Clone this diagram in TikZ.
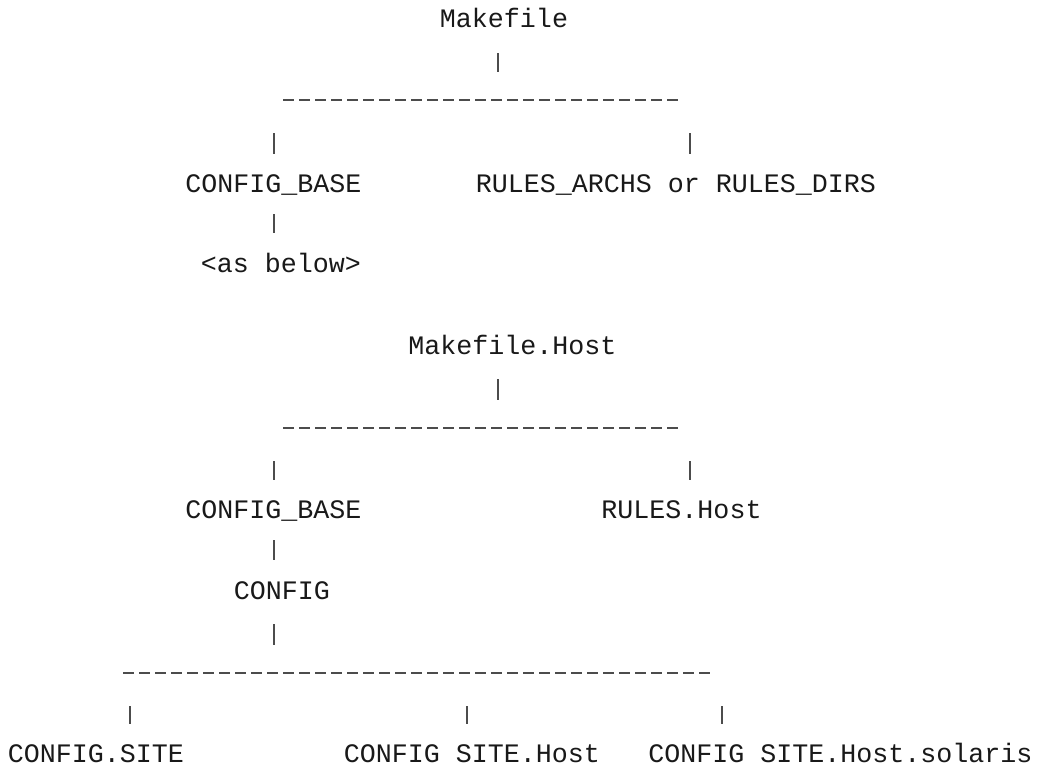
\documentclass[tikz,border=0pt]{standalone}
\usepackage{fontspec}
\setmonofont{Liberation Mono}
\usepackage{tikz}

\tikzset{
  txt/.style={font=\ttfamily\fontsize{26.67}{32}\selectfont, inner sep=0pt,
    anchor=base, text height=15pt, text depth=0pt, text=black!90},
  bar/.style={line width=1.1pt, draw=black!70},
  stem/.style={bar, shorten <=25pt, shorten >=28pt},
  drop/.style={bar, shorten <=33pt, shorten >=23pt},
  link/.style={bar, shorten <=22pt, shorten >=24pt},
  bus/.style={line width=1.1pt, draw=black!70, dash pattern=on 11pt off 5pt},
}

\begin{document}
\begin{tikzpicture}[x=1pt,y=-1pt]
\fill[white] (0,0) rectangle (1044,768);
% upper tree
\node[txt] (mk)    at (504,28)    {Makefile};
\node[txt] (cbA)   at (273.5,192) {CONFIG\_BASE};
\node[txt] (rules) at (676,192)   {RULES\_ARCHS or RULES\_DIRS};
\node[txt] (asb)   at (281,272)   {<as below>};
\coordinate (b1l) at (283,100);
\coordinate (b1r) at (679,100);
\coordinate (t1)  at (498,100);
\coordinate (d1)  at (274,100);
\coordinate (d2)  at (690,100);
\draw[bus]  (b1l) -- (b1r);
\draw[stem] (mk.south -| t1) -- (t1);
\draw[drop] (d1) -- (d1 |- cbA.north);
\draw[drop] (d2) -- (d2 |- rules.north);
\draw[link] (cbA.south -| d1) -- (d1 |- asb.north);
% lower tree
\node[txt] (mkh)    at (512.5,354) {Makefile.Host};
\node[txt] (cbB)    at (273.5,518) {CONFIG\_BASE};
\node[txt] (rulesh) at (681.5,518) {RULES.Host};
\node[txt] (cfg)    at (282,599)   {CONFIG};
\coordinate (b2l) at (283,428);
\coordinate (b2r) at (679,428);
\coordinate (t2)  at (498,428);
\coordinate (d3)  at (274,428);
\coordinate (d4)  at (690,428);
\draw[bus]  (b2l) -- (b2r);
\draw[stem] (mkh.south -| t2) -- (t2);
\draw[drop] (d3) -- (d3 |- cbB.north);
\draw[drop] (d4) -- (d4 |- rulesh.north);
\draw[link] (cbB.south -| d3) -- (d3 |- cfg.north);
% site files
\node[txt] (site)   at (96,762)    {CONFIG.SITE};
\node[txt] (siteh)  at (472,762)   {CONFIG SITE.Host};
\node[txt] (sitehs) at (840.5,762) {CONFIG SITE.Host.solaris};
\coordinate (b3l) at (123,673);
\coordinate (b3r) at (713,673);
\coordinate (t3)  at (274,673);
\coordinate (d5)  at (130,673);
\coordinate (d6)  at (467,673);
\coordinate (d7)  at (722,673);
\draw[bus]  (b3l) -- (b3r);
\draw[stem] (cfg.south -| t3) -- (t3);
\draw[drop] (d5) -- (d5 |- site.north);
\draw[drop] (d6) -- (d6 |- siteh.north);
\draw[drop] (d7) -- (d7 |- sitehs.north);
\end{tikzpicture}
\end{document}
